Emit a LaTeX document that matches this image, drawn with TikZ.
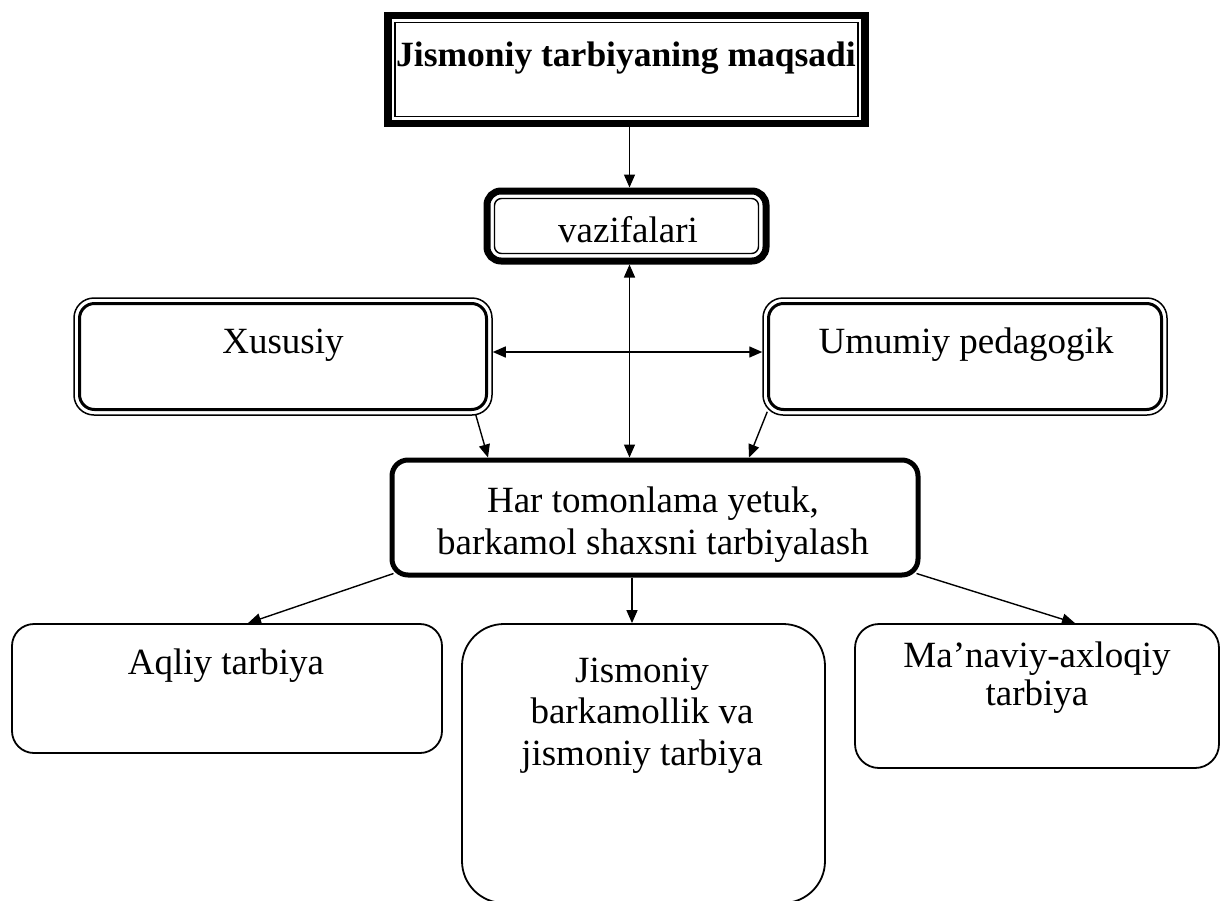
\documentclass[tikz,border=0pt]{standalone}
\usepackage{fontspec}
\setmainfont{Liberation Serif}
\usetikzlibrary{arrows.meta,calc}
\begin{document}
\begin{tikzpicture}[x=1pt,y=-1pt,
  txt/.style={anchor=base,inner sep=0pt,font=\fontsize{37}{42}\selectfont},
  tip/.tip={Triangle[length=13pt,width=11pt]},
  arr/.style={line width=1.4pt,-tip},
  darr/.style={line width=1.4pt,tip-tip},
  lowbox/.style={draw,line width=1.8pt,outer sep=0.9pt,inner sep=0pt},
]
\useasboundingbox (0,0) rectangle (1221,900);
% top box
\node[draw,line width=7.5pt,outer sep=3.75pt,inner sep=0pt,minimum width=477pt,minimum height=108pt] (top) at (626.5,69.5) {};
\draw[line width=1.6pt] ($(top.north west)+(10.75,10.75)$) rectangle ($(top.south east)+(-10.75,-10.75)$);
\node[txt,font=\bfseries\fontsize{35.5}{42}\selectfont] (ttitle) at (626,66) {Jismoniy tarbiyaning maqsadi};
% vazifalari
\node[draw,line width=7pt,outer sep=3.5pt,inner sep=0pt,rounded corners=14pt,minimum width=279pt,minimum height=70pt] (vaz) at (626.5,226) {};
\draw[line width=1.4pt,rounded corners=7pt] ($(vaz.north west)+(11,11)$) rectangle ($(vaz.south east)+(-11,-11)$);
\node[txt] (tvaz) at (628,242) {vazifalari};
% Xususiy / Umumiy
\node[draw,line width=1.5pt,outer sep=0.75pt,inner sep=0pt,rounded corners=20pt,minimum width=418pt,minimum height=117pt] (xus) at (283,356.5) {};
\draw[line width=3pt,rounded corners=15pt] ($(xus.north west)+(6.25,6.25)$) rectangle ($(xus.south east)+(-6.25,-6.25)$);
\node[txt] (txus) at (283,353) {Xususiy};
\node[draw,line width=1.5pt,outer sep=0.75pt,inner sep=0pt,rounded corners=20pt,minimum width=404pt,minimum height=117pt] (umu) at (965,356.5) {};
\draw[line width=3pt,rounded corners=15pt] ($(umu.north west)+(6.25,6.25)$) rectangle ($(umu.south east)+(-6.25,-6.25)$);
\node[txt] (tumu) at (966,353) {Umumiy pedagogik};
% central
\node[draw,line width=5pt,outer sep=2.5pt,inner sep=0pt,rounded corners=16pt,minimum width=526pt,minimum height=115pt] (central) at (655,517.5) {};
\node[txt] (tc1) at (653,512) {Har tomonlama yetuk,};
\node[txt] (tc2) at (653,554) {barkamol shaxsni tarbiyalash};
% bottom row
\node[lowbox,rounded corners=22pt,minimum width=430pt,minimum height=129pt] (aqliy) at (227,688.5) {};
\node[txt] (ta) at (226,674) {Aqliy tarbiya};
\node[lowbox,rounded corners=42pt,minimum width=363pt,minimum height=279pt] (mid) at (643.5,763.5) {};
\node[txt] (tm1) at (642,682) {Jismoniy};
\node[txt] (tm2) at (642,723) {barkamollik va};
\node[txt] (tm3) at (642,765) {jismoniy tarbiya};
\node[lowbox,rounded corners=24pt,minimum width=364pt,minimum height=144pt] (right) at (1037,696) {};
\node[txt] (tr1) at (1037,667) {Ma’naviy-axloqiy};
\node[txt] (tr2) at (1037,705) {tarbiya};
% connectors
\coordinate (ta1) at ([xshift=3pt]top.south);
\coordinate (va1) at ([xshift=3pt]vaz.north);
\draw[arr] (ta1) -- (va1);
\coordinate (vb1) at ([xshift=3pt]vaz.south);
\draw[darr] (vb1) -- (vb1 |- central.north);
\draw[darr] ([yshift=4.5pt]xus.east) -- ([yshift=4.5pt]umu.west);
\draw[arr] ([xshift=-17pt,yshift=1pt]xus.south east) -- ([xshift=-167pt]central.north);
\draw[arr] ([xshift=5pt,yshift=4pt]umu.south west) -- ([xshift=94pt]central.north);
\draw[arr] ([xshift=4pt,yshift=4pt]central.south west) -- ([xshift=21pt]aqliy.north);
\draw[arr] ([xshift=-4pt,yshift=4pt]central.south east) -- ([xshift=38pt]right.north);
\coordinate (mtop) at ([xshift=-11.5pt]mid.north);
\draw[arr] (mtop |- central.south) -- (mtop);
\end{tikzpicture}
\end{document}
